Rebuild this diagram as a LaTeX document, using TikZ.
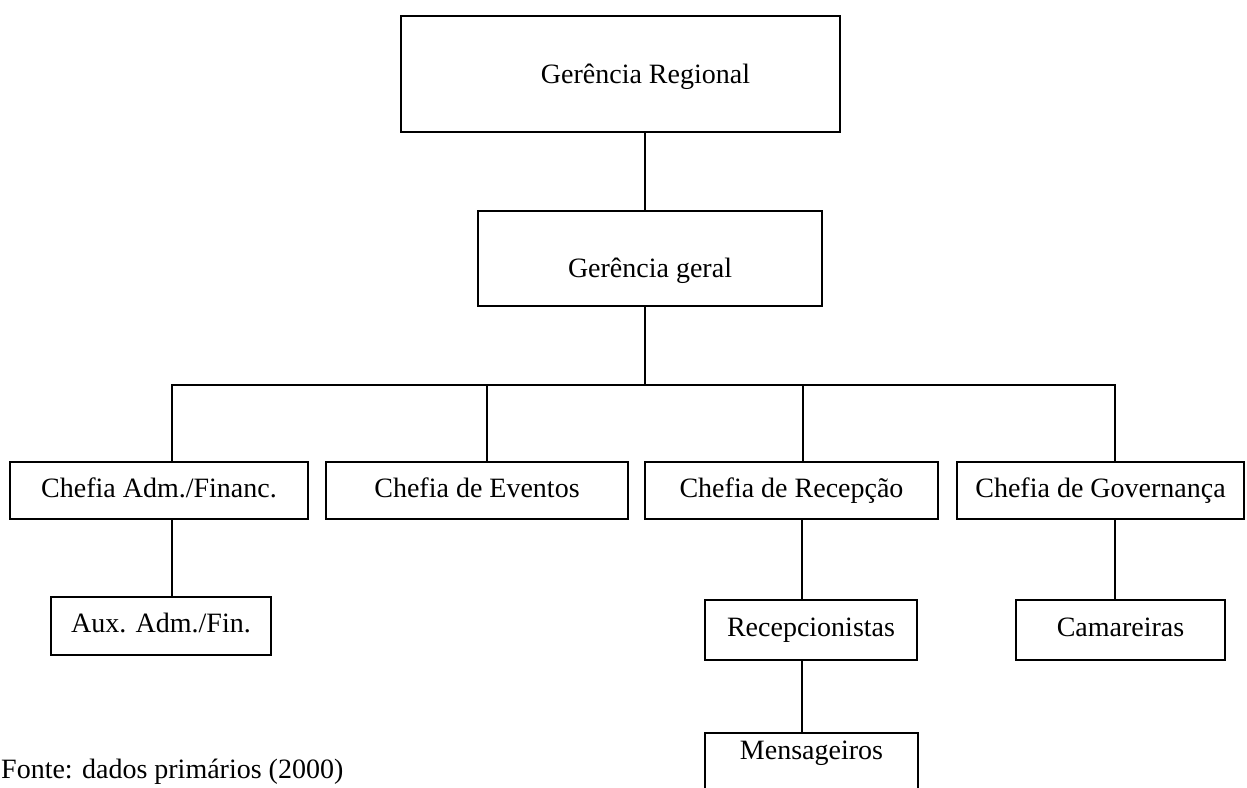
\documentclass[tikz,border=0pt]{standalone}
\usepackage{fontspec}
\setmainfont{Liberation Serif}
\begin{document}
\begin{tikzpicture}[x=1pt,y=-1pt,
  box/.style={draw, line width=2.8pt, inner sep=0pt, text height=19pt, text depth=0pt,
    font=\fontsize{28}{34}\selectfont},
  conn/.style={line width=2.8pt}]
\useasboundingbox (0,0) rectangle (1247,787);
\clip (0,0) rectangle (1247,787);
% boxes
\node[box, minimum width=439pt, minimum height=116pt] (reg) at (620.5,74) {\hspace*{50pt}Gerência Regional};
\node[box, minimum width=344pt, minimum height=95pt, text height=38pt] (ger) at (650,258.5) {Gerência geral};
\node[box, minimum width=298pt, minimum height=57pt, text depth=5pt] (c1) at (159,490.5) {Chefia Adm./Financ.};
\node[box, minimum width=302pt, minimum height=57pt, text depth=5pt] (c2) at (477,490.5) {Chefia de Eventos};
\node[box, minimum width=293pt, minimum height=57pt, text depth=5pt] (c3) at (791.5,490.5) {Chefia de Recepção};
\node[box, minimum width=287pt, minimum height=57pt, text depth=5pt] (c4) at (1100.5,490.5) {Chefia de Governança};
\node[box, minimum width=220pt, minimum height=58pt, text depth=6pt] (aux) at (161,626) {Aux. Adm./Fin.};
\node[box, minimum width=212pt, minimum height=60pt, text depth=6pt] (rec) at (811,630) {Recepcionistas};
\node[box, minimum width=209pt, minimum height=60pt, text depth=6pt] (cam) at (1120.5,630) {Camareiras};
\node[box, minimum width=213pt, minimum height=80pt, text depth=46pt] (men) at (811.5,773) {Mensageiros};
\node[font=\fontsize{28}{34}\selectfont, anchor=base west, inner sep=0pt] (fonte) at (1,778) {Fonte: dados primários (2000)};
% connector coordinates
\coordinate (tx) at (645,0);
\coordinate (bus) at (0,385);
\coordinate (d1) at (172,0);
\coordinate (d2) at (487,0);
\coordinate (d3) at (803,0);
\coordinate (d4) at (1115,0);
\coordinate (e3) at (802,0);
% connectors
\draw[conn] (reg.south -| tx) -- (ger.north -| tx);
\draw[conn] (ger.south -| tx) -- (tx |- bus);
\draw[conn] (c1.north -| d1) -- (d1 |- bus) -- (d4 |- bus) -- (c4.north -| d4);
\draw[conn] (d2 |- bus) -- (c2.north -| d2);
\draw[conn] (d3 |- bus) -- (c3.north -| d3);
\draw[conn] (c1.south -| d1) -- (aux.north -| d1);
\draw[conn] (c3.south -| e3) -- (rec.north -| e3);
\draw[conn] (c4.south -| d4) -- (cam.north -| d4);
\draw[conn] (rec.south -| e3) -- (men.north -| e3);
\end{tikzpicture}
\end{document}
